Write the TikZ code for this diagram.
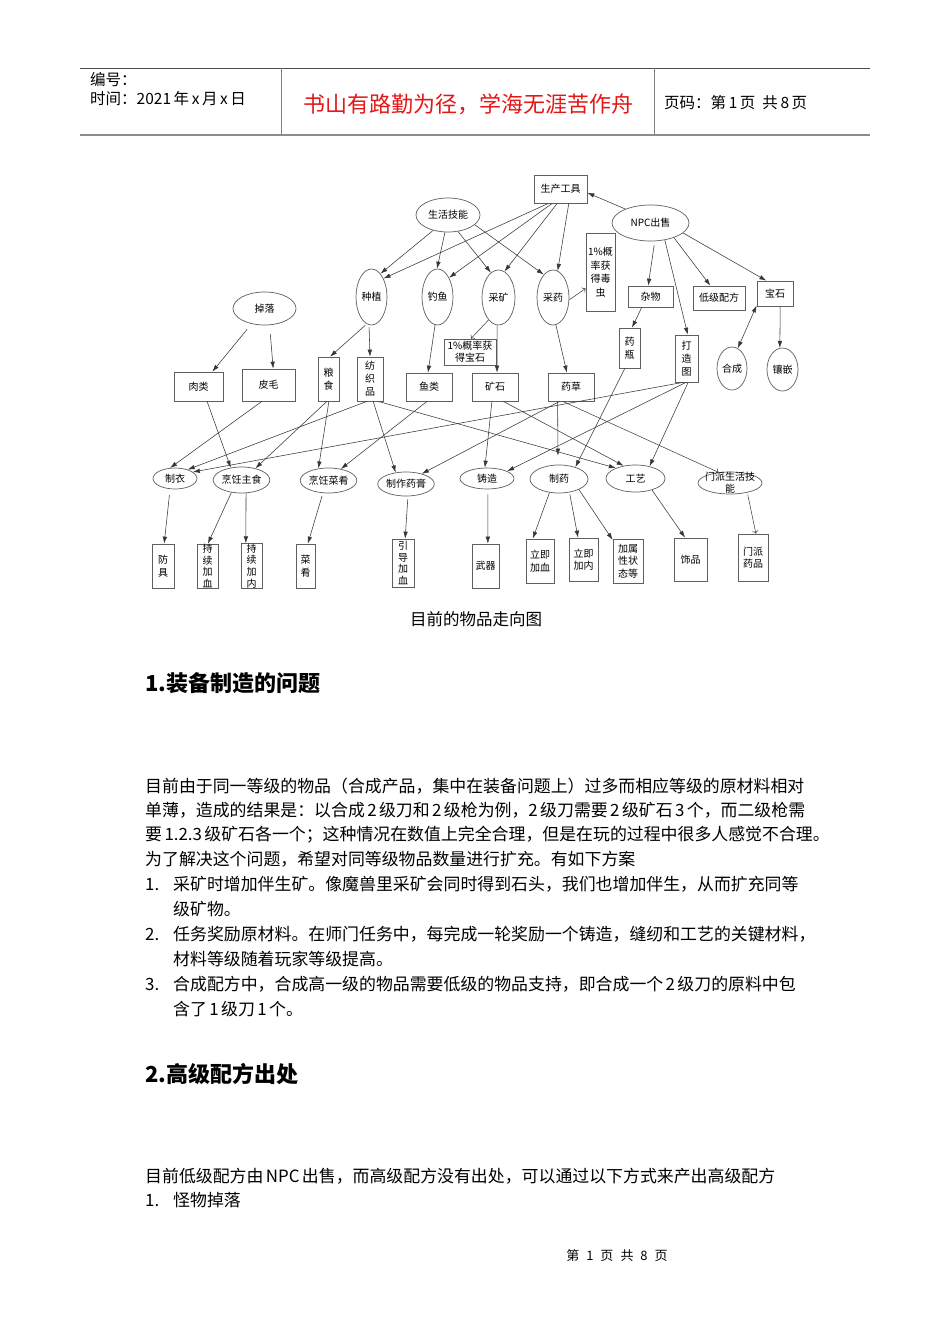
\documentclass[tikz,border=0pt]{standalone}
\usepackage{fontspec}
\setmainfont{Noto Sans CJK SC}
\usetikzlibrary{shapes.geometric,arrows.meta}
\definecolor{titlered}{RGB}{228,22,22}
\definecolor{ln}{RGB}{55,55,55}
\definecolor{bd}{RGB}{95,95,95}
\newcommand\bdf{\fontsize{16.9}{20}\selectfont}
\newcommand\hdgf{\fontsize{22}{26}\selectfont\bfseries}
\newcommand\gapsp{\hspace{2.4pt}}
\tikzset{
  nf/.style={font=\fontsize{10}{12.5}\selectfont},
  bx/.style={draw=bd, line width=0.7pt, rectangle, inner sep=0pt, align=center, nf},
  el/.style={draw=bd, line width=0.7pt, ellipse, inner sep=0pt, align=center, nf},
  ar/.style={draw=ln, line width=0.55pt, -{Latex[length=7pt,width=4.5pt]}},
  oa/.style={draw=ln, line width=0.5pt, -{To[length=3pt,width=6pt]}},
  gs/.style={shorten <=#1},
  txt/.style={anchor=base west, inner sep=0pt, font=\bdf},
  hline/.style={draw=black!70, line width=0.8pt},
  hline2/.style={draw=black!45, line width=2pt},
  vline/.style={draw=black!50, line width=0.9pt},
}
\begin{document}
\begin{tikzpicture}[x=1pt,y=-1pt]
\useasboundingbox (0,0) rectangle (950,1344);
\fill[white] (0,0) rectangle (950,1344);

% ---------- header ----------
\draw[hline] (80,68) -- (870,68);
\draw[hline2] (80,135) -- (870,135);
\draw[vline] (281,68) -- (281,135);
\draw[vline] (654,68) -- (654,135);
\node[anchor=west, inner sep=0pt, font=\fontsize{15.5}{18}\selectfont] (hno) at (90,80) {编号：};
\node[anchor=west, inner sep=0pt, font=\fontsize{15.5}{18}\selectfont] (htime) at (90,99) {时间：2021\,年\,x\,月\,x\,日};
\node[inner sep=0pt, text=titlered, font=\fontsize{22}{26}\selectfont] (htitle) at (468,104) {书山有路勤为径，学海无涯苦作舟};
\node[anchor=west, inner sep=0pt, font=\fontsize{15.5}{18}\selectfont] (hpage) at (664,103) {页码：第\,1\,页\ \ 共\,8\,页};

% ---------- diagram nodes ----------
\node[bx, minimum width=53, minimum height=28] (tools) at (560.5,189) {生产工具};
\node[el, minimum width=77, minimum height=36] (npc) at (650.5,223) {NPC出售};
\node[el, minimum width=64, minimum height=34] (life) at (448,215) {生活技能};
\node[el, minimum width=63, minimum height=33] (drop) at (264.5,308.5) {掉落};
\node[el, minimum width=31, minimum height=56] (plant) at (371.5,297) {种植};
\node[el, minimum width=31, minimum height=56] (fish) at (437.5,297) {钓鱼};
\node[el, minimum width=33, minimum height=55] (mine) at (498.5,297.5) {采矿};
\node[el, minimum width=32, minimum height=55] (herb) at (553,297.5) {采药};
\node[bx, minimum width=29, minimum height=78, font=\fontsize{10}{13.5}\selectfont] (bug) at (600.5,272) {1\%概\\率获\\得毒\\虫};
\node[bx, minimum width=45, minimum height=21] (misc) at (650.5,296.5) {杂物};
\node[bx, minimum width=52, minimum height=24] (lowrec) at (719,298) {低级配方};
\node[bx, minimum width=36, minimum height=25] (gem) at (775,293.5) {宝石};
\node[bx, minimum width=52, minimum height=26, font=\fontsize{10}{12}\selectfont] (gemp) at (470,352) {1\%概率获\\得宝石};
\node[bx, minimum width=21, minimum height=40] (bottle) at (629.5,348) {药\\瓶};
\node[bx, minimum width=23, minimum height=47, font=\fontsize{10}{13.3}\selectfont] (blue) at (686.5,358.5) {打\\造\\图};
\node[el, minimum width=30, minimum height=43] (synth) at (732,368.5) {合成};
\node[el, minimum width=31, minimum height=43] (inlay) at (782.5,369.5) {镶嵌};

\node[bx, minimum width=49, minimum height=29] (meat) at (198.5,386.5) {肉类};
\node[bx, minimum width=53, minimum height=32] (fur) at (268.5,385) {皮毛};
\node[bx, minimum width=21, minimum height=44, font=\fontsize{10}{13}\selectfont] (grain) at (328.5,379) {粮\\食};
\node[bx, minimum width=26, minimum height=44, font=\fontsize{10}{13}\selectfont] (cloth) at (370,379) {纺\\织\\品};
\node[bx, minimum width=46, minimum height=28] (fishm) at (429,387) {鱼类};
\node[bx, minimum width=46, minimum height=28] (ore) at (495,387) {矿石};
\node[bx, minimum width=46, minimum height=28] (herbm) at (571,387) {药草};

\node[el, minimum width=44, minimum height=21] (tailor) at (175,478.5) {制衣};
\node[el, minimum width=55, minimum height=26] (cookm) at (241.5,480) {烹饪主食};
\node[el, minimum width=53, minimum height=25] (cookd) at (328.5,480.5) {烹饪菜肴};
\node[el, minimum width=56, minimum height=24] (salve) at (406,484) {制作药膏};
\node[el, minimum width=54, minimum height=21] (cast) at (487,478.5) {铸造};
\node[el, minimum width=58, minimum height=28] (pharm) at (559,479) {制药};
\node[el, minimum width=59, minimum height=27] (craft) at (635.5,478.5) {工艺};
\node[el, minimum width=64, minimum height=22] (sect) at (730,483) {};
\node[nf, align=center, inner sep=0pt, font=\fontsize{10}{12.5}\selectfont] (sectlbl) at (730,482.5) {门派生活技\\能};

\node[bx, minimum width=22, minimum height=44] (armor) at (163,566) {防\\具};
\node[bx, minimum width=21, minimum height=44, font=\fontsize{10}{11.8}\selectfont] (hot1) at (207.5,566) {持\\续\\加\\血};
\node[bx, minimum width=21, minimum height=44, font=\fontsize{10}{11.8}\selectfont] (hot2) at (251.5,566) {持\\续\\加\\内};
\node[bx, minimum width=19, minimum height=44] (dish) at (305.5,566) {菜\\肴};
\node[bx, minimum width=22, minimum height=48, font=\fontsize{10}{11.8}\selectfont] (guide) at (403,563) {引\\导\\加\\血};
\node[bx, minimum width=27, minimum height=44] (weapon) at (485.5,566) {武器};
\node[bx, minimum width=28, minimum height=44] (inst1) at (540,561) {立即\\加血};
\node[bx, minimum width=29, minimum height=43] (inst2) at (583.5,559.5) {立即\\加内};
\node[bx, minimum width=30, minimum height=44] (attr) at (628,561) {加属\\性状\\态等};
\node[bx, minimum width=33, minimum height=43] (orn) at (690.5,559.5) {饰品};
\node[bx, minimum width=30, minimum height=47] (sectmed) at (753,557.5) {门派\\药品};

% ---------- connectors ----------
\draw[ar] (life.226) -- (plant.69);
\draw[ar] (life.260) -- (fish.91);
\draw[ar] (life.301) -- (mine.107);
\draw[ar] (life.340) -- (herb.112);
\draw[ar] (tools.230) -- (plant.57);
\draw[ar] (tools.240) -- (fish.59);
\draw[ar] (tools.257) -- (mine.77);
\draw[ar] (tools.300) -- (herb.80);
\draw[ar] (npc.151) -- (tools.352);
\draw[ar, gs=4pt] (npc.283) -- (misc.102);
\draw[ar] (npc.310) -- (blue.87);
\draw[ar] (npc.328) -- (lowrec.125);
\draw[ar] (npc.343) -- (gem.124);
\draw[ar] (misc.231) -- (bottle.83);
\draw[{Latex[length=7pt,width=4.5pt]}-{Latex[length=7pt,width=4.5pt]}, draw=ln, line width=0.55pt] (gem.213) -- (synth.74);
\draw[ar] (gem.292) -- (inlay.97);
\draw[oa] (herb.352) -- (bug.228);
\draw[oa] (mine.246) -- (gemp.86);
\draw[ar] (mine.267) -- (ore.82);
\draw[ar] (fish.265) -- (fishm.94);
\draw[ar] (herb.276) -- (herbm.106);
\draw[ar, gs=7pt] (drop.230) -- (meat.47);
\draw[ar, gs=9pt] (drop.287) -- (fur.74);
\draw[ar, gs=2pt] (plant.260) -- (grain.86);
\draw[ar, gs=2pt] (plant.265) -- (cloth.90);

\draw[ar] (meat.300) -- (cookm.131);
\draw[ar] (fur.248) -- (tailor.115);
\draw[ar] (grain.266) -- (cookm.40);
\draw[ar] (grain.271) -- (cookd.130);
\draw[ar] (cloth.262) -- (tailor.35);
\draw[ar] (cloth.278) -- (salve.132);
\draw[ar] (cloth.290) -- (craft.152);
\draw[ar] (fishm.262) -- (cookd.43);
\draw[ar] (blue.262) -- (tailor.20);
\draw[ar] (blue.269) -- (cast.20);
\draw[ar] (blue.274) -- (craft.41);
\draw[ar] (herbm.232) -- (salve.33);
\draw[ar, shorten >=9pt] (herbm.227) -- (pharm.94);
\draw[oa] (herbm.240) -- (sect.137);
\draw[ar] (ore.258) -- (cast.101);
\draw[ar] (ore.300) -- (craft.133);
\draw[ar] (bottle.257) -- (pharm.36);

\draw[ar, gs=6pt] (tailor.245) -- (armor.87);
\draw[ar] (cookm.231) -- (hot1.89);
\draw[ar] (cookm.289) -- (hot2.104);
\draw[ar, gs=3pt] (cookd.246) -- (dish.84);
\draw[ar, gs=3pt] (salve.279) -- (guide.85);
\draw[ar, gs=5pt] (cast.275) -- (weapon.84);
\draw[ar] (pharm.235) -- (inst1.108);
\draw[ar, gs=2pt] (pharm.308) -- (inst2.104);
\draw[ar] (pharm.332) -- (attr.126);
\draw[ar] (craft.325) -- (orn.104);
\draw[oa, gs=2pt] (sect.331) -- (sectmed.83);

\node[inner sep=0pt, font=\fontsize{16.5}{20}\selectfont] (cap) at (476,619) {目前的物品走向图};

% ---------- text ----------
\node[anchor=base west, inner sep=0pt, font=\hdgf] (h1) at (145,691) {1.装备制造的问题};
\node[txt] (p1) at (145,792.4) {目前由于同一等级的物品（合成产品，集中在装备问题上）过多而相应等级的原材料相对};
\node[txt] (p2) at (145,816.4) {单薄，造成的结果是：以合成\gapsp{}2\gapsp{}级刀和\gapsp{}2\gapsp{}级枪为例，2\gapsp{}级刀需要\gapsp{}2\gapsp{}级矿石\gapsp{}3\gapsp{}个，而二级枪需};
\node[txt] (p3) at (145,840.4) {要\gapsp{}1.2.3\gapsp{}级矿石各一个；这种情况在数值上完全合理，但是在玩的过程中很多人感觉不合理。};
\node[txt] (p4) at (145,865.4) {为了解决这个问题，希望对同等级物品数量进行扩充。有如下方案};
\node[txt] (n1) at (145,890.4) {1.};
\node[txt] (l1) at (173,890.4) {采矿时增加伴生矿。像魔兽里采矿会同时得到石头，我们也增加伴生，从而扩充同等};
\node[txt] (l1b) at (173,915.4) {级矿物。};
\node[txt] (n2) at (145,940.4) {2.};
\node[txt] (l2) at (173,940.4) {任务奖励原材料。在师门任务中，每完成一轮奖励一个铸造，缝纫和工艺的关键材料，};
\node[txt] (l2b) at (173,965.4) {材料等级随着玩家等级提高。};
\node[txt] (n3) at (145,990.4) {3.};
\node[txt] (l3) at (173,990.4) {合成配方中，合成高一级的物品需要低级的物品支持，即合成一个\gapsp{}2\gapsp{}级刀的原料中包};
\node[txt] (l3b) at (173,1015.4) {含了\gapsp{}1\gapsp{}级刀\gapsp{}1\gapsp{}个。};

\node[anchor=base west, inner sep=0pt, font=\hdgf] (h2) at (145,1082) {2.高级配方出处};
\node[txt] (q1) at (145,1182.4) {目前低级配方由\gapsp{}NPC\gapsp{}出售，而高级配方没有出处，可以通过以下方式来产出高级配方};
\node[txt] (m1) at (145,1206.4) {1.};
\node[txt] (m1t) at (173,1206.4) {怪物掉落};

\node[inner sep=0pt, font=\fontsize{13}{16}\selectfont] (foot) at (617,1256) {第\hspace{7pt}1\hspace{7pt}页\hspace{7pt}共\hspace{7pt}8\hspace{7pt}页};
\end{tikzpicture}
\end{document}
